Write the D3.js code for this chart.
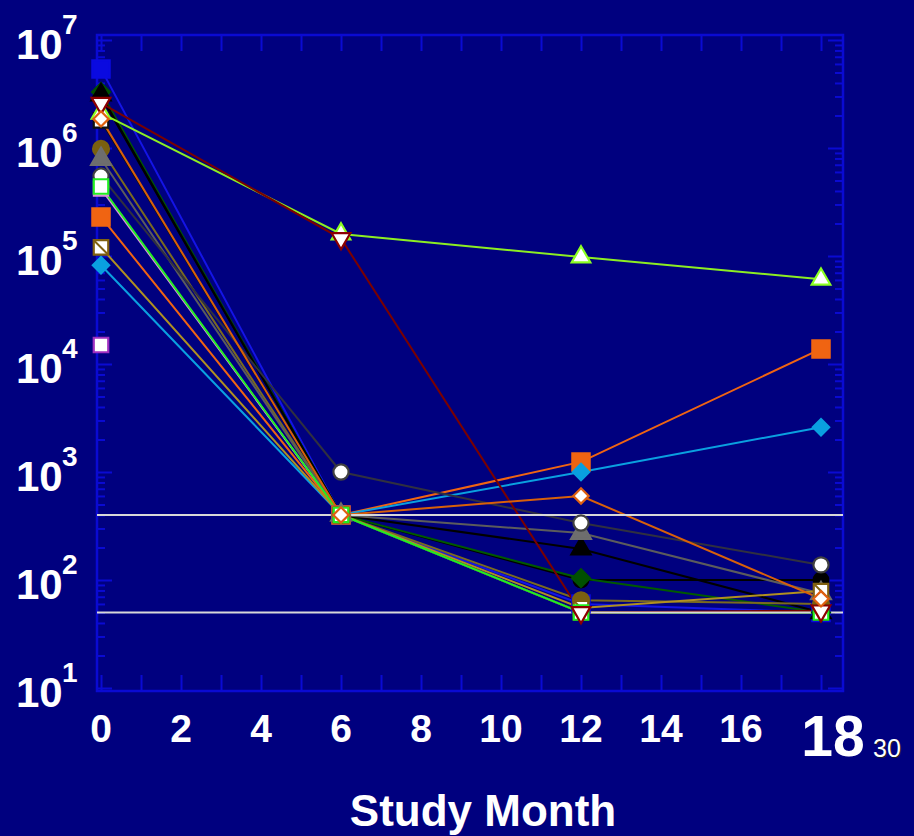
<!DOCTYPE html>
<html>
<head>
<meta charset="utf-8">
<script src="https://cdn.jsdelivr.net/npm/d3@7"></script>
<style>
  html, body { margin: 0; padding: 0; background: #00007f; }
  svg { display: block; }
</style>
</head>
<body>
<svg id="chart" width="914" height="836"></svg>
<script>
// Study visits (months) at which each subject was sampled
const months = [0, 6, 12, 18];

// Per-subject values at months 0, 6, 12, 18 (null = not sampled)
const blueSquare      = [5.4e6, 400, 60, 50];
const darkGreenDiam   = [3.3e6, 400, 104, 50];
const blackTriangle   = [3.1e6, 400, 194, 50];
const blackCircle     = [3.0e6, 400, 100, 100];
const redTriangleDown = [2.6e6, 1.45e5, 50, 52];
const limeTriangle    = [2.1e6, 1.6e5, 9.8e4, 6.1e4];
const orangeDiamond   = [1.86e6, 400, 600, 67];
const whiteSquare     = [1.8e6, 400, 50, 50];
const oliveCircle     = [9.8e5, 400, 65, 60];
const grayTriangle    = [7.9e5, 400, 272, 75];
const whiteCircle     = [5.5e5, 1000, 337, 138];
const pinkSquare      = [4.2e5, 400, 50, 50];
const greenSquare     = [4.4e5, 400, 50, 50];
const orangeSquare    = [2.3e5, 400, 1240, 1.38e4];
const oliveSquare     = [1.2e5, 400, 55, 79];
const cyanDiamond     = [8.2e4, 400, 1000, 2600];
const purpleSquare    = [1.5e4, null, null, null];

// Horizontal reference levels
const refLevels = [400, 50];

// Axis ticks and labels
const xTickMonths = d3.range(0, 19);
const xLabels = [0, 2, 4, 6, 8, 10, 12, 14, 16];
const yExponents = [1, 2, 3, 4, 5, 6, 7];

// Drawing style for each subject (listed in stacking order, bottom first)
const series = [
  { v: pinkSquare,      line: "#d890d8", shape: "square",   fill: "#ffffff", stroke: "#d890d8", size: 200 },
  { v: blueSquare,      line: "#1414e6", shape: "square",   fill: "#0a0ae0", stroke: "#0a0ae0", size: 300 },
  { v: blackCircle,     line: "#000000", shape: "circle",   fill: "#000000", stroke: "#000000", size: 170 },
  { v: darkGreenDiam,   line: "#005a00", shape: "diamond",  fill: "#005000", stroke: "#005000", size: 200 },
  { v: blackTriangle,   line: "#000000", shape: "triangle", fill: "#000000", stroke: "#000000", size: 160 },
  { v: orangeSquare,    line: "#f06412", shape: "square",   fill: "#f06412", stroke: "#f06412", size: 300 },
  { v: cyanDiamond,     line: "#0aa0e0", shape: "diamond",  fill: "#0aa0e0", stroke: "#0aa0e0", size: 170 },
  { v: whiteSquare,     line: "#101010", shape: "square",   fill: "#ffffff", stroke: "#101010", size: 210 },
  { v: oliveCircle,     line: "#7a6a20", shape: "circle",   fill: "#7a6010", stroke: "#7a6010", size: 200 },
  { v: grayTriangle,    line: "#5c5c5c", shape: "triangle", fill: "#6e6e6e", stroke: "#6e6e6e", size: 170 },
  { v: whiteCircle,     line: "#303040", shape: "circle",   fill: "#ffffff", stroke: "#404040", size: 180 },
  { v: oliveSquare,     line: "#b09020", shape: "boxdiag",  fill: "#ffffff", stroke: "#806010", size: 210 },
  { v: limeTriangle,    line: "#8cee22", shape: "triangle", fill: "#ffffff", stroke: "#8cff22", size: 150 },
  { v: greenSquare,     line: "#22ee22", shape: "square",   fill: "#ffffff", stroke: "#22ee22", size: 210 },
  { v: redTriangleDown, line: "#7a0000", shape: "tridown",  fill: "#ffffff", stroke: "#8b0000", size: 150 },
  { v: orangeDiamond,   line: "#d8600a", shape: "diamond",  fill: "#ffffff", stroke: "#e06010", size: 150 },
  { v: purpleSquare,    line: "#a030c0", shape: "square",   fill: "#ffffff", stroke: "#a030c0", size: 210 }
];

const svg = d3.select("#chart");
const frame = { left: 97, right: 843, top: 35, bottom: 691 };

const x = d3.scaleLinear().domain([0, 18]).range([101, 821]);
const y = d3.scaleLog().domain([10, 1e7]).range([688, 40]);

const axisColor = "#0a0ad2";
const font = "'Liberation Sans', Arial, Helvetica, sans-serif";

// Tick values for the log axis
const majorY = yExponents.map(e => Math.pow(10, e));
const minorY = [];
for (let e = 1; e < 7; e++) for (let m = 2; m <= 9; m++) minorY.push(m * Math.pow(10, e));

function styleAxis(g) {
  g.select(".domain").remove();
  g.selectAll("line").attr("stroke", axisColor).attr("stroke-width", 2);
  g.selectAll("text").remove();
}

// Frame
svg.append("rect")
  .attr("x", frame.left).attr("y", frame.top)
  .attr("width", frame.right - frame.left).attr("height", frame.bottom - frame.top)
  .attr("fill", "none").attr("stroke", axisColor).attr("stroke-width", 2.5);

// Left and right log axes with ticks pointing inward
svg.append("g").attr("transform", `translate(${frame.left},0)`)
  .call(d3.axisRight(y).tickValues(majorY).tickSize(15).tickSizeOuter(0)).call(styleAxis);
svg.append("g").attr("transform", `translate(${frame.left},0)`)
  .call(d3.axisRight(y).tickValues(minorY).tickSize(8).tickSizeOuter(0)).call(styleAxis);
svg.append("g").attr("transform", `translate(${frame.right},0)`)
  .call(d3.axisLeft(y).tickValues(majorY).tickSize(15).tickSizeOuter(0)).call(styleAxis);
svg.append("g").attr("transform", `translate(${frame.right},0)`)
  .call(d3.axisLeft(y).tickValues(minorY).tickSize(8).tickSizeOuter(0)).call(styleAxis);

// Top and bottom month axes
svg.append("g").attr("transform", `translate(0,${frame.top})`)
  .call(d3.axisBottom(x).tickValues(xTickMonths).tickSize(16).tickSizeOuter(0)).call(styleAxis);
svg.append("g").attr("transform", `translate(0,${frame.bottom})`)
  .call(d3.axisTop(x).tickValues(xTickMonths).tickSize(16).tickSizeOuter(0)).call(styleAxis);

// Y labels: 10 with superscript exponent
const yLab = svg.append("g").attr("fill", "#ffffff").attr("font-family", font).attr("font-weight", "bold");
yExponents.forEach(e => {
  const yy = y(Math.pow(10, e));
  yLab.append("text").attr("x", 16).attr("y", yy + 19).attr("font-size", 42).text("10");
  yLab.append("text").attr("x", 62).attr("y", yy - 6).attr("font-size", 28).text(String(e));
});

// X labels
const xLab = svg.append("g").attr("fill", "#ffffff").attr("font-family", font).attr("font-weight", "bold")
  .attr("text-anchor", "middle");
xLabels.forEach(m => {
  xLab.append("text").attr("x", x(m)).attr("y", 742).attr("font-size", 39).text(String(m));
});
xLab.append("text").attr("x", x(18) + 12).attr("y", 756).attr("font-size", 57).text("18");
svg.append("text").attr("x", 888).attr("y", 758).attr("text-anchor", "middle")
  .attr("font-family", font).attr("font-size", 25).attr("fill", "#202020").text("30");
svg.append("text").attr("x", 887).attr("y", 757).attr("text-anchor", "middle")
  .attr("font-family", font).attr("font-size", 25).attr("fill", "#ffffff").text("30");

svg.append("text").attr("x", 483).attr("y", 826).attr("text-anchor", "middle")
  .attr("font-family", font).attr("font-weight", "bold").attr("font-size", 44)
  .attr("fill", "#ffffff").text("Study Month");

// Subject trajectories
const pts = s => months.map((m, i) => ({ m, v: s.v[i] })).filter(d => d.v != null);
const line = d3.line().x(d => x(d.m)).y(d => y(d.v));

const linesG = svg.append("g");
series.forEach(s => {
  const p = pts(s);
  if (p.length < 2) return;
  linesG.append("path").attr("d", line(p)).attr("fill", "none")
    .attr("stroke", s.line).attr("stroke-width", 2);
});

// Reference levels
svg.append("g").selectAll("line").data(refLevels).join("line")
  .attr("x1", frame.left).attr("x2", frame.right)
  .attr("y1", d => y(d)).attr("y2", d => y(d))
  .attr("stroke", "#d8d8d8").attr("stroke-width", 2);

// Markers
const symType = { square: d3.symbolSquare, circle: d3.symbolCircle, diamond: d3.symbolDiamond2,
                  triangle: d3.symbolTriangle, tridown: d3.symbolTriangle, boxdiag: d3.symbolSquare };
const markG = svg.append("g");
series.forEach(s => {
  const sym = d3.symbol().type(symType[s.shape]).size(s.size);
  pts(s).forEach(d => {
    const rot = s.shape === "tridown" ? " rotate(180)" : "";
    const g = markG.append("g").attr("transform", `translate(${x(d.m)},${y(d.v)})${rot}`);
    g.append("path").attr("d", sym()).attr("fill", s.fill)
      .attr("stroke", s.stroke).attr("stroke-width", 2.2);
    if (s.shape === "boxdiag") {
      const h = Math.sqrt(s.size) / 2;
      g.append("line").attr("x1", -h).attr("y1", -h).attr("x2", h).attr("y2", h)
        .attr("stroke", s.stroke).attr("stroke-width", 2);
    }
  });
});
</script>
</body>
</html>
